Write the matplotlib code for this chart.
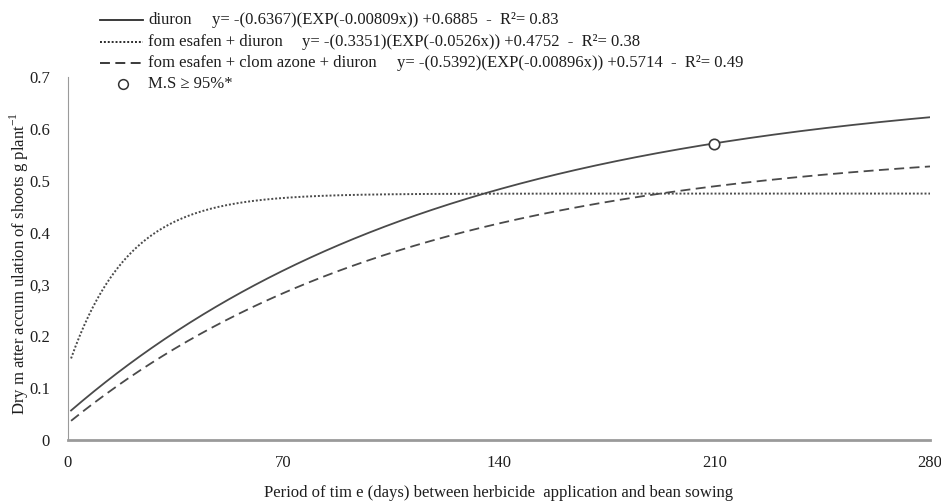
import numpy as np
import matplotlib
matplotlib.use("Agg")
import matplotlib.pyplot as plt
from matplotlib.lines import Line2D

plt.rcParams['font.family'] = ['Liberation Serif', 'DejaVu Serif']

# Fitted model coefficients: y = -(a)*exp(-b*x) + c
series_names = ["diuron", "fom esafen + diuron", "fom esafen + clom azone + diuron"]
coef_a = [0.6367, 0.3351, 0.5392]
coef_b = [0.00809, 0.0526, 0.00896]
coef_c = [0.6885, 0.4752, 0.5714]
r2 = [0.83, 0.38, 0.49]
equations = ["y= -(0.6367)(EXP(-0.00809x)) +0.6885  -  R\u00b2= 0.83",
             "y= -(0.3351)(EXP(-0.0526x)) +0.4752  -  R\u00b2= 0.38",
             "y= -(0.5392)(EXP(-0.00896x)) +0.5714  -  R\u00b2= 0.49"]
x_start, x_end = 1, 280
ms_x = [210]
ms_y = [0.57]
x_ticks = [0, 70, 140, 210, 280]
y_ticks = [0, 0.1, 0.2, 0.3, 0.4, 0.5, 0.6, 0.7]
y_ticklabels = ["0", "0.1", "0.2", "0,3", "0.4", "0.5", "0.6", "0.7"]

W, H = 941, 501
FS = 12
tc = '#1e1e1e'
fig = plt.figure(figsize=(W/100, H/100), dpi=100)
ax = fig.add_axes([68/W, (H-440)/H, (930-68)/W, (440-77)/H])

styles = [dict(ls='-', lw=1.3), dict(ls=(0, (1, 1)), lw=1.4), dict(ls=(0, (5.5, 3)), lw=1.3)]
col = '#4a4a4a'
x = np.linspace(x_start, x_end, 600)
for a, b, c, st in zip(coef_a, coef_b, coef_c, styles):
    ax.plot(x, -a*np.exp(-b*x) + c, color=col, **st)
ax.plot(ms_x, ms_y, 'o', mfc='white', mec='#3a3a3a', ms=7.5, mew=1.2, zorder=5)

ax.set_xlim(0, 280)
ax.set_ylim(0, 0.7)
ax.set_xticks(x_ticks)
ax.set_xticklabels([str(t) for t in x_ticks])
ax.set_yticks(y_ticks)
ax.set_yticklabels(y_ticklabels)
ax.tick_params(length=0, labelsize=FS, colors=tc, pad=13)
ax.tick_params(axis='x', pad=11)
for s in ['top', 'right']:
    ax.spines[s].set_visible(False)
ax.spines['left'].set_color('#9a9a9a')
ax.spines['bottom'].set_color('#9a9a9a')
ax.spines['bottom'].set_linewidth(2)
ax.set_xlabel("Period of tim e (days) between herbicide  application and bean sowing",
              fontsize=FS, color=tc)
ax.xaxis.set_label_coords(0.5, -(493-440)/363, transform=ax.transAxes)
ax.xaxis.label.set_va('center')
ax.set_ylabel("Dry m atter accum ulation of shoots g plant$^{\\mathregular{-1}}$",
              fontsize=FS, color=tc)
ax.yaxis.set_label_coords(-(68-19)/862, (440-264)/363, transform=ax.transAxes)
ax.yaxis.label.set_va('center')

# Legend drawn at the top
rows = [20, 42, 63, 84]
eq_x = [212, 302, 397]
for i in range(3):
    yy = 1 - rows[i]/H
    fig.add_artist(Line2D([100/W, 143/W], [yy, yy], color='#2b2b2b', transform=fig.transFigure, **styles[i]))
    fig.text(148/W, yy, series_names[i], fontsize=FS, va='center', ha='left', color=tc)
    fig.text(eq_x[i]/W, yy, equations[i], fontsize=FS, va='center', ha='left', color=tc)
yy = 1 - rows[3]/H
fig.add_artist(Line2D([123/W], [yy], marker='o', mfc='white', mec='#333333', ms=7, mew=1.1,
                      transform=fig.transFigure))
fig.text(148/W, yy, "M.S \u2265 95%*", fontsize=FS, va='center', ha='left', color=tc)

fig.savefig("out.png", dpi=100)
